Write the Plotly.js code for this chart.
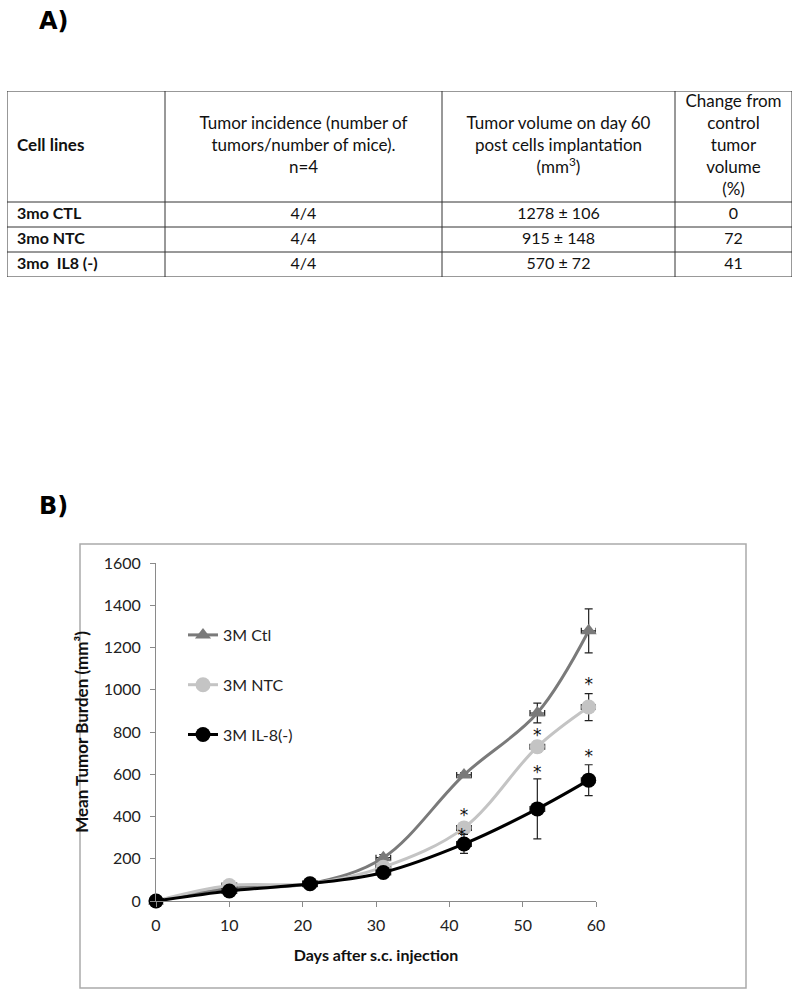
<!DOCTYPE html>
<html>
<head>
<meta charset="utf-8">
<script src="https://cdn.plot.ly/plotly-3.0.1.min.js"></script>
<style>html,body{margin:0;padding:0;background:#fff;}#chart{width:800px;height:997px;}</style>
</head>
<body>
<div id="chart"></div>
<script>
// ---- Table data (panel A) ----
const headerLabels = [
  'Cell lines',
  'Tumor incidence (number of<br>tumors/number of mice).<br>n=4',
  'Tumor volume on day 60<br>post cells implantation<br>(mm<sup>3</sup>)',
  'Change from<br>control<br>tumor<br>volume<br>(%)'
];
const cellLines = ['3mo CTL', '3mo NTC', '3mo\u00a0 IL8 (-)'];
const incidence = ['4/4', '4/4', '4/4'];
const volumeDay60 = ['1278 ± 106', '915 ± 148', '570 ± 72'];
const changePct = ['0', '72', '41'];

// ---- Growth curve data (panel B) ----
const days = [0, 10, 21, 31, 42, 52, 59];
const ctlMean = [0, 60, 82, 205, 597, 890, 1279];
const ctlErr  = [0, 8, 8, 15, 10, 47, 104];
const ntcMean = [0, 73, 82, 160, 346, 730, 918];
const ntcErr  = [0, 10, 8, 12, 15, 26, 64];
const il8Mean = [0, 47, 82, 135, 270, 436, 572];
const il8Err  = [0, 6, 8, 10, 45, 142, 73];
const dayErr  = 1;
const seriesNames = ['3M Ctl', '3M NTC', '3M IL-8(-)'];
const starDays = [42, 41.7, 52, 52, 59, 59];
const starVals = [400, 305, 778, 602, 1020, 678];
const xTicks = [0, 10, 20, 30, 40, 50, 60];
const yTicks = [0, 200, 400, 600, 800, 1000, 1200, 1400, 1600];

// ---- Layout geometry (not data) ----
const W = 800, H = 997;
const px = v => v / W;
const py = v => (H - v) / H;
const FONT = 'Lato, "Open Sans", sans-serif';
const COL_W = [158, 277, 233, 117];
const ROW_H = [111, 25, 25, 25];
const colEdges = COL_W.reduce((a, w) => a.concat(a[a.length - 1] + w), [0]);
const rowEdges = ROW_H.reduce((a, h) => a.concat(a[a.length - 1] + h), [0]);
const colMid = COL_W.map((w, i) => colEdges[i] + w / 2);
const rowMid = ROW_H.map((h, i) => rowEdges[i] + h / 2);
const TW = colEdges[colEdges.length - 1], TH = rowEdges[rowEdges.length - 1];
const PADL = 10;

const bodyCols = [incidence, volumeDay60, changePct];

// Table texts
const tHeaderFirst = {
  type: 'scatter', mode: 'text', xaxis: 'x2', yaxis: 'y2',
  x: [PADL], y: [rowMid[0]], text: ['<b>' + headerLabels[0] + '</b>'],
  textposition: 'middle right', textfont: {family: FONT, size: 17, color: '#111'},
  showlegend: false, hoverinfo: 'skip', cliponaxis: false
};
const tHeaderRest = {
  type: 'scatter', mode: 'text', xaxis: 'x2', yaxis: 'y2',
  x: colMid.slice(1), y: colMid.slice(1).map(() => rowMid[0]), text: headerLabels.slice(1),
  textposition: 'middle center', textfont: {family: FONT, size: 17, color: '#111'},
  showlegend: false, hoverinfo: 'skip', cliponaxis: false
};
const tBodyFirst = {
  type: 'scatter', mode: 'text', xaxis: 'x2', yaxis: 'y2',
  x: cellLines.map(() => PADL), y: cellLines.map((_, r) => rowMid[r + 1]),
  text: cellLines.map(s => '<b>' + s + '</b>'),
  textposition: 'middle right', textfont: {family: FONT, size: 16, color: '#111'},
  showlegend: false, hoverinfo: 'skip', cliponaxis: false
};
const bx = [], by = [], bt = [];
bodyCols.forEach((col, c) => col.forEach((v, r) => { bx.push(colMid[c + 1]); by.push(rowMid[r + 1]); bt.push(v); }));
const tBodyRest = {
  type: 'scatter', mode: 'text', xaxis: 'x2', yaxis: 'y2',
  x: bx, y: by, text: bt,
  textposition: 'middle center', textfont: {family: FONT, size: 16, color: '#111'},
  showlegend: false, hoverinfo: 'skip', cliponaxis: false
};

// Table grid lines
const gridShapes = [];
colEdges.forEach(x => gridShapes.push({type: 'line', xref: 'x2', yref: 'y2', x0: x, x1: x, y0: 0, y1: TH, line: {color: '#333', width: 1}}));
rowEdges.forEach(y => gridShapes.push({type: 'line', xref: 'x2', yref: 'y2', x0: 0, x1: TW, y0: y, y1: y, line: {color: '#333', width: 1}}));

const errStyle = (arr) => ({type: 'data', array: arr, visible: true, color: '#222', thickness: 1.2, width: 4});
const errX = {type: 'constant', value: dayErr, visible: true, color: '#222', thickness: 1.2, width: 3};

const tCtl = {
  type: 'scatter', mode: 'lines+markers', name: seriesNames[0], legendgroup: 'a',
  x: days, y: ctlMean, error_y: errStyle(ctlErr), error_x: errX,
  line: {color: '#7a7a7a', width: 3, shape: 'spline', smoothing: 1},
  marker: {symbol: 'triangle-up', size: 14, color: '#7a7a7a'},
  cliponaxis: false
};
const tNtc = {
  type: 'scatter', mode: 'lines+markers', name: seriesNames[1], legendgroup: 'b',
  x: days, y: ntcMean, error_y: errStyle(ntcErr), error_x: errX,
  line: {color: '#c4c4c4', width: 3, shape: 'spline', smoothing: 1},
  marker: {symbol: 'circle', size: 15, color: '#c4c4c4'},
  cliponaxis: false
};
const tIl8 = {
  type: 'scatter', mode: 'lines+markers', name: seriesNames[2], legendgroup: 'c',
  x: days, y: il8Mean, error_y: errStyle(il8Err), error_x: errX,
  line: {color: '#000', width: 3, shape: 'spline', smoothing: 1},
  marker: {symbol: 'circle', size: 15, color: '#000'},
  cliponaxis: false
};
const tStars = {
  type: 'scatter', mode: 'text', x: starDays, y: starVals,
  text: starDays.map(() => '*'), textposition: 'middle center',
  textfont: {family: 'DejaVu Sans', size: 17, color: '#111'},
  showlegend: false, hoverinfo: 'skip', cliponaxis: false
};

const layout = {
  width: W, height: H,
  margin: {l: 0, r: 0, t: 0, b: 0},
  paper_bgcolor: '#fff', plot_bgcolor: 'rgba(0,0,0,0)',
  font: {family: FONT, size: 15, color: '#222'},
  showlegend: true,
  legend: {
    x: px(183), y: py(618), xanchor: 'left', yanchor: 'top',
    bgcolor: 'rgba(0,0,0,0)', traceorder: 'grouped', tracegroupgap: 26,
    font: {family: FONT, size: 16, color: '#222'}
  },
  xaxis: {
    domain: [px(156), px(596)], range: [0, 60], tickvals: xTicks,
    showgrid: false, zeroline: false, showline: true, linecolor: '#8a8a8a', linewidth: 1,
    ticks: 'outside', ticklen: 5, tickcolor: '#8a8a8a', ticklabelstandoff: 5,
    tickfont: {family: FONT, size: 16, color: '#222'},
    anchor: 'y', automargin: false,
    title: {text: '<b>Days after s.c. injection</b>', font: {family: FONT, size: 16, color: '#111'}, standoff: 16}
  },
  yaxis: {
    domain: [py(901), py(563)], range: [0, 1600], tickvals: yTicks,
    showgrid: false, zeroline: false, showline: true, linecolor: '#8a8a8a', linewidth: 1,
    ticks: 'outside', ticklen: 5, tickcolor: '#8a8a8a', ticklabelstandoff: 6,
    tickfont: {family: FONT, size: 16, color: '#222'},
    anchor: 'x', automargin: false,
    title: {text: '<b>Mean Tumor Burden (mm³)</b>', font: {family: FONT, size: 17, color: '#111'}, standoff: 10}
  },
  xaxis2: {domain: [px(7), px(792)], range: [0, TW], visible: false, anchor: 'y2', fixedrange: true},
  yaxis2: {domain: [py(277), py(91)], range: [TH, 0], visible: false, anchor: 'x2', fixedrange: true},
  shapes: [
    {type: 'rect', xref: 'paper', yref: 'paper', x0: px(80), x1: px(746), y0: py(988), y1: py(544),
     line: {color: '#aaaaaa', width: 1.5}, fillcolor: 'rgba(0,0,0,0)', layer: 'below'}
  ].concat(gridShapes),
  annotations: [
    {text: '<b>A)</b>', xref: 'paper', yref: 'paper', x: px(37), y: py(21), xanchor: 'left', yanchor: 'middle',
     showarrow: false, font: {family: 'DejaVu Sans', size: 24, color: '#000'}},
    {text: '<b>B)</b>', xref: 'paper', yref: 'paper', x: px(37), y: py(506), xanchor: 'left', yanchor: 'middle',
     showarrow: false, font: {family: 'DejaVu Sans', size: 24, color: '#000'}}
  ]
};

Plotly.newPlot('chart', [tHeaderFirst, tHeaderRest, tBodyFirst, tBodyRest, tCtl, tNtc, tIl8, tStars], layout,
  {displayModeBar: false, staticPlot: true});
</script>
</body>
</html>
